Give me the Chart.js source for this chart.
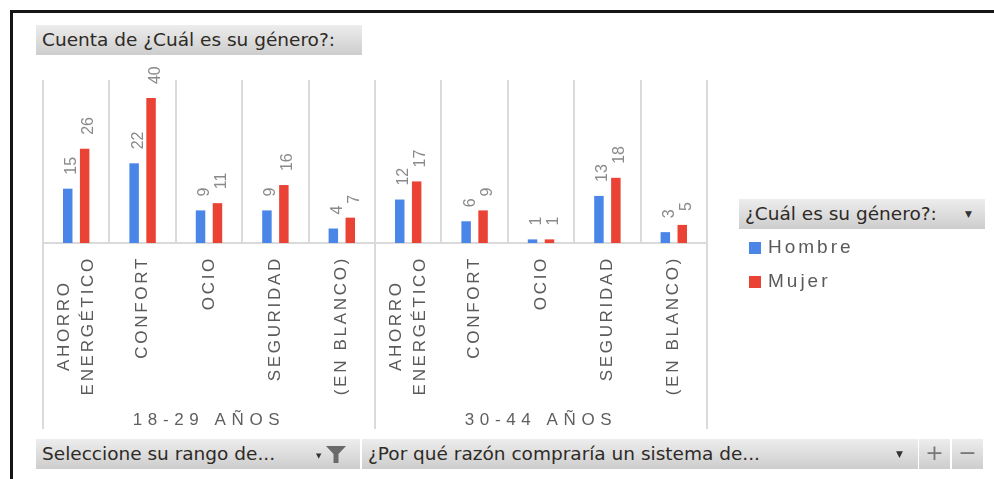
<!DOCTYPE html>
<html lang="es">
<head>
<meta charset="utf-8">
<title>Cuenta de ¿Cuál es su género?</title>
<script src="https://cdn.jsdelivr.net/npm/chart.js@4/dist/chart.umd.min.js"></script>
<style>
  html, body { margin: 0; padding: 0; background: #fff; }
  body { width: 994px; height: 479px; position: relative; overflow: hidden; font-family: "DejaVu Sans", sans-serif; }
  #frame { position: absolute; left: 10px; top: 10px; width: 1000px; height: 500px; border-top: 3px solid #151515; border-left: 3px solid #151515; }
  #chart { position: absolute; left: 0; top: 0; }
  .field { position: absolute; height: 30px; line-height: 30px; box-sizing: border-box; padding-left: 6px;
           background: linear-gradient(#ededed, #cdcdcd); color: #2e2a26; font-size: 18.5px; white-space: nowrap; }
  .drop { position: absolute; top: 0; font-size: 9px; color: #333; }
  .btn { position: absolute; top: 439px; height: 30px; line-height: 28px; text-align: center; padding: 0;
         background: linear-gradient(#ededed, #cdcdcd); color: #777; font-size: 22px; box-sizing: border-box; }
  #legend { position: absolute; left: 749px; top: 233px; margin: 0; padding: 0; list-style: none;
            font-family: "Liberation Sans", Arial, sans-serif; font-size: 19px; color: #5a5a5a; letter-spacing: 3px; }
  #legend li { height: 34px; line-height: 28px; white-space: nowrap; }
  #legend .sw { display: inline-block; width: 12px; height: 12px; margin-right: 7px; vertical-align: -1px; letter-spacing: 0; }
</style>
</head>
<body>
<div id="frame"></div>
<canvas id="chart" width="994" height="479"></canvas>

<div class="field" style="left:36px; top:25px; width:326px;">Cuenta de ¿Cuál es su género?:</div>

<div class="field" style="left:739px; top:199px; width:246px;">¿Cuál es su género?:<span class="drop" style="left:226px;">▼</span></div>
<ul id="legend"></ul>

<div class="field" style="left:36px; top:439px; width:324px;">Seleccione su rango de...
  <span class="drop" style="left:280px; font-size:7px; top:2px;">▼</span>
  <svg style="position:absolute; left:290px; top:7px;" width="20" height="17" viewBox="0 0 20 17">
    <polygon points="0,0 20,0 12.5,8 12.5,17 7.5,17 7.5,8" fill="#6a6a6a"/>
  </svg>
</div>
<div class="field" style="left:362px; top:439px; width:556px;">¿Por qué razón compraría un sistema de...
  <span class="drop" style="left:534px;">▼</span>
</div>
<div class="btn" style="left:919px; width:31px;">+</div>
<div class="btn" style="left:952px; width:31px;">−</div>

<script>
// Purchase reasons (repeated in each age band) and the age bands themselves
const reasons = [['AHORRO', 'ENERGÉTICO'], 'CONFORT', 'OCIO', 'SEGURIDAD', '(EN BLANCO)'];
const ageGroups = ['18-29 AÑOS', '30-44 AÑOS'];

// Response counts by gender, band by band
const seriesNames = ['Hombre', 'Mujer'];
const seriesColors = ['#4a86e8', '#ea4335'];
const hombre = [15, 22, 9, 9, 4, 12, 6, 1, 13, 3];
const mujer  = [26, 40, 11, 16, 7, 17, 9, 1, 18, 5];

const xLabels = ageGroups.flatMap(() => reasons);

const GRID = '#dadada';
const FONT = '"Liberation Sans", Arial, sans-serif';

// Letter-spaced tick labels; multi-line labels get their lines centred on each other
function spacedTicks(scale, spacing, centerLines) {
  if (scale.$spaced) return;
  scale.$spaced = true;
  const drawLabels = scale.drawLabels.bind(scale);
  scale.drawLabels = function (area) {
    const ctx = scale.ctx;
    ctx.save();
    ctx.letterSpacing = spacing + 'px';
    drawLabels(area);
    ctx.restore();
  };
  if (!centerLines) return;
  const compute = scale._computeLabelItems.bind(scale);
  scale._computeLabelItems = function (area) {
    const items = compute(area);
    const ctx = scale.ctx;
    items.forEach(item => {
      if (!Array.isArray(item.label)) return;
      ctx.save();
      ctx.font = item.font.string;
      ctx.letterSpacing = spacing + 'px';
      const maxW = Math.max(...item.label.map(l => ctx.measureText(l).width));
      ctx.restore();
      const n = item.label.length;
      const t = item.options.translation;
      item.options.translation = [t[0] - (n - 1) * item.font.lineHeight / 2, t[1] + maxW / 2];
      item.options.textAlign = 'center';
    });
    return items;
  };
}

// Rotated count printed above every bar
const valueLabels = {
  id: 'valueLabels',
  afterDatasetsDraw(chart) {
    const ctx = chart.ctx;
    ctx.save();
    ctx.font = '16px ' + FONT;
    ctx.fillStyle = '#8a8a8a';
    ctx.textAlign = 'left';
    ctx.textBaseline = 'alphabetic';
    chart.data.datasets.forEach((ds, di) => {
      chart.getDatasetMeta(di).data.forEach((bar, i) => {
        ctx.save();
        ctx.translate(bar.x + 8.5, bar.y - 14);
        ctx.rotate(-Math.PI / 2);
        ctx.fillText(String(ds.data[i]), 0, 0);
        ctx.restore();
      });
    });
    ctx.restore();
  }
};

// Separator below the axis only at the edges of each age band
const isBandEdge = c => c.index === undefined || c.index % reasons.length === 0;

const chart = new Chart(document.getElementById('chart'), {
  type: 'bar',
  data: {
    labels: xLabels,
    datasets: [hombre, mujer].map((values, i) => ({
      label: seriesNames[i],
      data: values,
      backgroundColor: seriesColors[i],
      borderWidth: 0,
      categoryPercentage: 0.51,
      barPercentage: 0.56
    }))
  },
  options: {
    responsive: false,
    animation: false,
    devicePixelRatio: 1,
    layout: { padding: { left: 43, right: 287, top: 80, bottom: 46 } },
    plugins: { legend: { display: false }, tooltip: { enabled: false } },
    scales: {
      x: {
        type: 'category',
        position: 'bottom',
        weight: 0,
        offset: true,
        grid: {
          offset: true, color: GRID, lineWidth: 2,
          drawTicks: true, tickLength: 186, tickWidth: 2,
          tickColor: c => isBandEdge(c) ? GRID : 'rgba(0,0,0,0)'
        },
        border: { display: true, color: GRID, width: 2 },
        ticks: {
          autoSkip: false, minRotation: 90, maxRotation: 90, padding: -173,
          color: '#5a5a5a', font: { family: FONT, size: 17, lineHeight: 1.45 }
        },
        afterFit: s => { s.height = 160; spacedTicks(s, 2.7, true); }
      },
      x2: {
        type: 'category',
        labels: ageGroups,
        position: 'bottom',
        weight: 1,
        offset: true,
        grid: { display: false },
        border: { display: false },
        ticks: { padding: -1, color: '#5f5f5f', font: { family: FONT, size: 17 } },
        afterFit: s => { s.height = 30; spacedTicks(s, 5.6, false); }
      },
      y: { display: false, min: 0, max: 45 }
    }
  },
  plugins: [valueLabels]
});

// Legend entries taken from the chart's datasets
const legend = document.getElementById('legend');
chart.data.datasets.forEach(ds => {
  const li = document.createElement('li');
  const sw = document.createElement('span');
  sw.className = 'sw';
  sw.style.background = ds.backgroundColor;
  li.appendChild(sw);
  li.appendChild(document.createTextNode(ds.label));
  legend.appendChild(li);
});
</script>
</body>
</html>
